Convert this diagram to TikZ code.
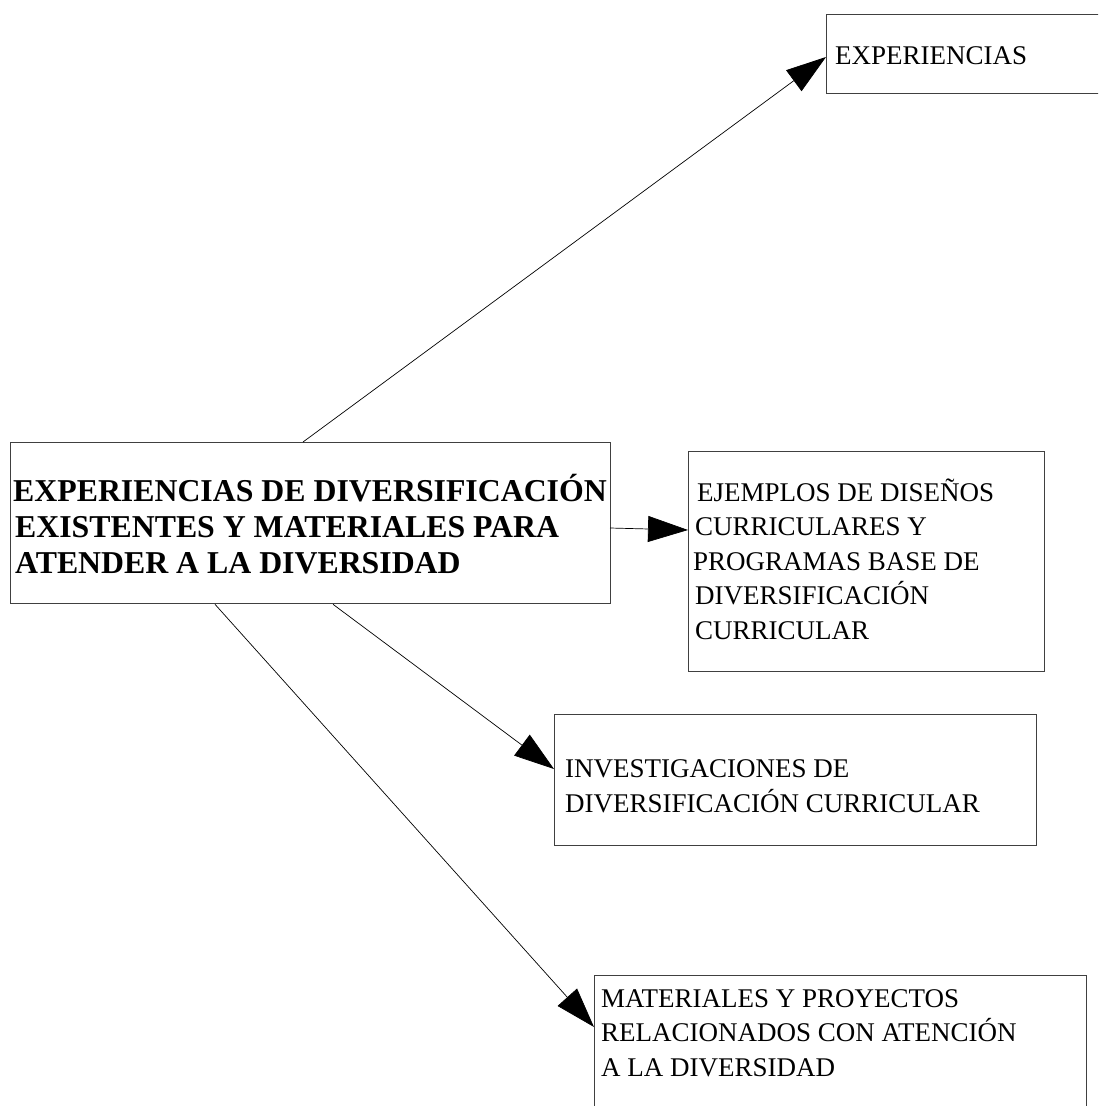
\documentclass[tikz,border=0pt]{standalone}
\usepackage{fontspec}
\setmainfont{Liberation Serif}
\usetikzlibrary{arrows.meta,calc}

\begin{document}
\begin{tikzpicture}[x=1pt,y=-1pt,
  box/.style={draw=black!75,line width=1.3pt,rectangle,anchor=north west,inner sep=0pt},
  txt/.style={anchor=base west,align=left,inner sep=0pt,font=\fontsize{27}{34.5}\selectfont},
  bigtxt/.style={anchor=base west,align=left,inner sep=0pt,font=\bfseries\fontsize{31.8}{36}\selectfont},
  link/.style={line width=0.7pt,-{Triangle[length=40pt,width=26pt]}}]
  \useasboundingbox (0,0) rectangle (1098,1106);
  \clip (0,0) rectangle (1098,1106);

  % boxes
  \node[box,minimum width=600pt,minimum height=161pt] (main) at (10,442) {};
  \node[box,minimum width=290pt,minimum height=79pt] (exp) at (826,14) {};
  \node[box,minimum width=356pt,minimum height=220pt] (ejm) at (688,451) {};
  \node[box,minimum width=482pt,minimum height=131pt] (inv) at (554,714) {};
  \node[box,minimum width=492pt,minimum height=160pt] (mat) at (594,975) {};

  % texts (anchored at the baseline of their last line)
  \node[bigtxt] (maintxt) at (13,573) {EXPERIENCIAS DE DIVERSIFICACIÓN\\\hspace*{2pt}EXISTENTES Y MATERIALES PARA\\\hspace*{2pt}ATENDER A LA DIVERSIDAD};
  \node[txt] (exptxt) at (835,64) {EXPERIENCIAS};
  \node[txt] (ejmtxt) at (693,639) {\hspace*{4pt}EJEMPLOS DE DISEÑOS\\\hspace*{2pt}CURRICULARES Y\\PROGRAMAS BASE DE\\\hspace*{2pt}DIVERSIFICACIÓN\\\hspace*{2pt}CURRICULAR};
  \node[txt] (invtxt) at (565,812) {INVESTIGACIONES DE\\DIVERSIFICACIÓN CURRICULAR};
  \node[txt] (mattxt) at (601,1076) {MATERIALES Y PROYECTOS\\RELACIONADOS CON ATENCIÓN\\A LA DIVERSIDAD};

  % connectors
  \draw[link] ($(main.north west)+(293,0)$) -- ($(exp.north west)+(0,43)$);
  \draw[link] ($(main.north west)+(600,86)$) -- ($(ejm.north west)+(0,79)$);
  \draw[link] ($(main.south west)+(323,0)$) -- ($(inv.north west)+(0,55)$);
  \draw[link] ($(main.south west)+(205,0)$) -- ($(mat.north west)+(0,52)$);
\end{tikzpicture}
\end{document}
